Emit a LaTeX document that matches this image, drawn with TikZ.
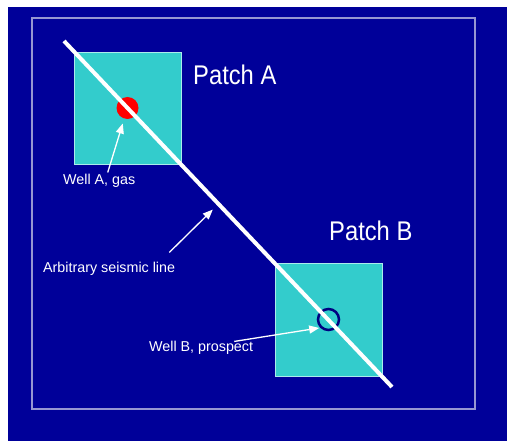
\documentclass[tikz,border=0pt]{standalone}
\usepackage{fontspec}
\setmainfont{Liberation Sans}
\newfontfamily\patchfont[FakeStretch=0.88]{Liberation Sans}
\usetikzlibrary{arrows.meta,calc}

\definecolor{slidebg}{RGB}{0,0,153}
\definecolor{patchfill}{RGB}{51,204,204}
\definecolor{patchedge}{RGB}{170,235,235}
\definecolor{framecol}{RGB}{150,150,210}
\definecolor{wellBcol}{RGB}{0,0,128}

\begin{document}
\begin{tikzpicture}[x=1pt,y=-1pt,
    patch/.style={rectangle,fill=patchfill,draw=patchedge,line width=0.8pt,
      minimum width=107pt,minimum height=112pt,inner sep=0pt},
    bigtag/.style={text=white,inner sep=0pt,anchor=base west,
      font=\patchfont\fontsize{27}{30}\selectfont},
    smalltag/.style={text=white,inner sep=0pt,anchor=base west,
      font=\fontsize{14.3}{16}\selectfont},
    pointer/.style={white,line width=1.3pt,-{Triangle[length=10pt,width=8pt]}}]
        \useasboundingbox (0,0) rectangle (507,441);

        % Background and frame
        \fill[white] (0,0) rectangle (507,441);
        \fill[slidebg] (8,7) rectangle (507,441);
        \draw[framecol,line width=1.5pt] (32,18) rectangle (475,409);

        % Seismic line end points
        \coordinate (S1) at (64,41);
        \coordinate (S2) at (392,387);
        \coordinate (hit) at ($(S1)!0.471!(S2)$); % where the pointer meets the line

        % Patches
        \node[patch] (patchA) at (127.5,108) {};
        \node[patch,minimum height=113pt] (patchB) at (328.5,319.5) {};

        % Wells
        \node[circle,fill=red,minimum size=22pt,inner sep=0pt] (wellA) at (patchA.center) {};
        \node[circle,draw=wellBcol,line width=2.5pt,minimum size=21pt,inner sep=0pt] (wellB) at (patchB.center) {};

        % Draw the seismic line
        \draw[white,line width=4pt] (S1) -- (S2);

        % Labels
        \node[bigtag] (tagA) at (193,85) {Patch A};
        \node[bigtag] (tagB) at (329,241) {Patch B};
        \node[smalltag] (wellAlbl) at (63,185) {Well A, gas};
        \node[smalltag] (seisLbl) at (43,273) {Arbitrary seismic line};
        \node[smalltag] (wellBlbl) at (149,352) {Well B, prospect};

        % Pointers
        \draw[pointer,shorten >=5pt] ([xshift=8.5pt,yshift=2pt]wellAlbl.north) -- (wellA);
        \draw[pointer,shorten >=8pt] ([xshift=-6pt,yshift=10pt]seisLbl.north east) -- (hit);
        \draw[pointer,shorten >=1pt] ([xshift=-19pt]wellBlbl.north east) -- (wellB.south west);
\end{tikzpicture}
\end{document}
